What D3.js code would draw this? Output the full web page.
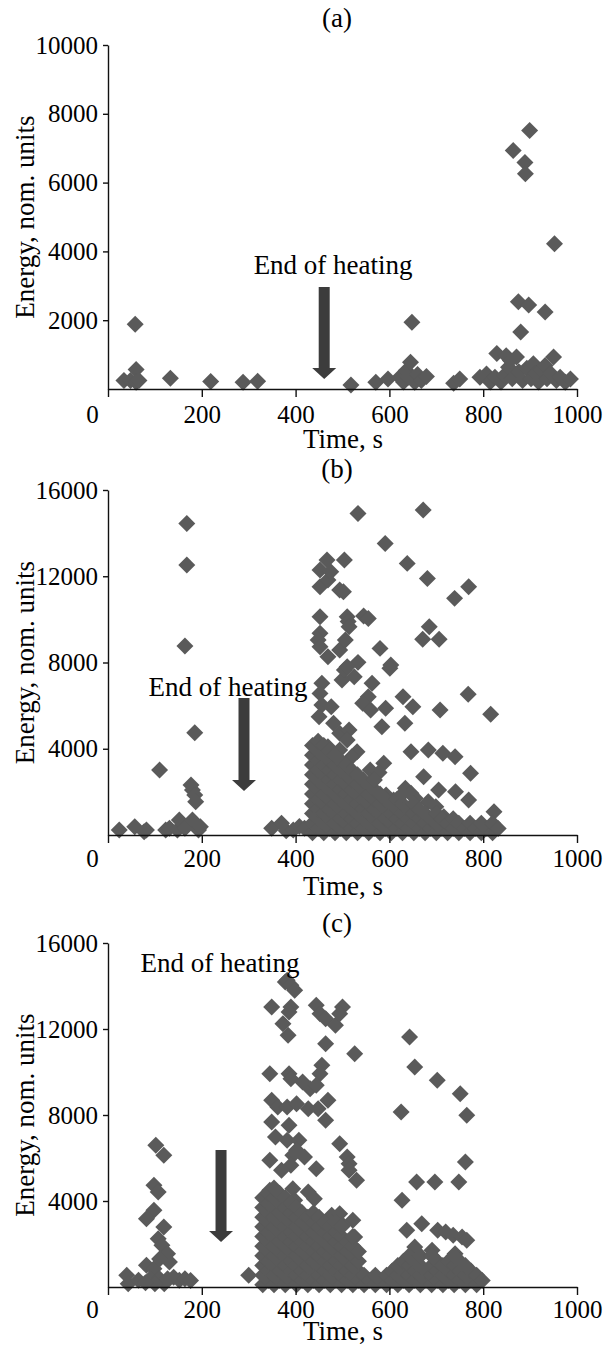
<!DOCTYPE html>
<meta charset="utf-8">
<style>
  body { margin: 0; background: #fff; }
  text { font-family: "Liberation Serif", "Times New Roman", serif; fill: #000; }
</style>
<svg width="605" height="1351"></svg>
<script src="https://cdn.jsdelivr.net/npm/d3@7"></script>
<script>
    // tick values
    const timeTicks = [0, 200, 400, 600, 800, 1000]
    const energyTicksA = [2000, 4000, 6000, 8000, 10000]
    const energyTicksBC = [4000, 8000, 12000, 16000]

    // panel (a): [time, energy]
    const scatterA = [
        [34, 244], [48, 244], [58, 1883], [60, 566], [60, 195], [66, 250],
        [133, 312], [219, 215], [288, 195], [319, 224],
        [518, 117], [571, 195], [597, 293], [622, 341], [630, 200], [636, 537], [640, 340],
        [645, 780], [648, 1940], [654, 195], [660, 420], [668, 250], [679, 361],
        [737, 166], [750, 293],
        [793, 341], [807, 439], [815, 200], [825, 341], [829, 1030], [838, 200], [845, 400],
        [849, 968], [854, 634], [858, 829], [862, 300], [864, 6931], [871, 927], [875, 2537],
        [876, 500], [880, 1659], [884, 250], [889, 6583], [890, 6254], [893, 600], [897, 2439],
        [899, 7512], [902, 300], [907, 732], [912, 450], [918, 200], [924, 550], [932, 2236],
        [932, 683], [936, 300], [944, 450], [950, 927], [952, 4221], [956, 250], [964, 341],
        [975, 195], [986, 293]
    ]

    // panel (b)
    const scatterB = [
        [24, 232], [57, 386], [77, 155], [82, 232], [110, 3014], [123, 232], [131, 309],
        [148, 232], [152, 696], [164, 309], [164, 8764], [168, 14451], [168, 12519],
        [177, 2318], [180, 2087], [180, 696], [185, 1855], [185, 4745], [187, 1546],
        [193, 232], [197, 386],
        [349, 309], [370, 541], [380, 200], [395, 232], [408, 400], [419, 309],
        [533, 14915], [672, 15070], [591, 13524], [638, 12597], [681, 11901], [769, 11515],
        [739, 10974], [685, 9660], [671, 9073], [706, 9073], [768, 6522], [708, 5796],
        [816, 5595], [580, 8655], [603, 7883], [601, 7728], [533, 8006], [545, 10155],
        [555, 10046], [510, 10123], [512, 9900], [504, 12751], [467, 12751], [452, 12287],
        [452, 11515], [469, 11824], [494, 11360], [502, 11283], [475, 12210], [452, 10123],
        [452, 9351], [448, 9042], [452, 8733], [469, 8269], [494, 8578], [506, 9042],
        [514, 9660], [499, 7187], [525, 7342], [504, 7651], [510, 7805], [563, 7033],
        [555, 6414], [543, 6105], [560, 5796], [629, 6414], [650, 5950], [633, 5178],
        [592, 5873], [584, 5023], [588, 3323], [646, 3864], [683, 3941], [714, 3787],
        [740, 3632], [673, 2705], [773, 2859], [705, 2087], [741, 2009], [769, 1623],
        [823, 1082], [683, 1546], [699, 1314], [716, 850], [456, 7033], [452, 6568],
        [456, 6028], [450, 5487], [476, 5950], [481, 5178], [494, 4714], [514, 4868],
        [510, 4405], [531, 3864], [520, 3632], [452, 4173], [469, 4096], [494, 3941],
        [559, 3014], [578, 2900], [634, 2164], [646, 1932], [655, 1700], [593, 1855], [609, 1623]
    ]
    const denseB = [
        [436, [100, 550, 1000, 1450, 1900, 2350, 2800, 3250, 3700, 4150]],
        [448, [300, 750, 1200, 1650, 2100, 2550, 3000, 3450, 3900, 4350]],
        [460, [100, 550, 1000, 1450, 1900, 2350, 2800, 3250, 3700, 4150]],
        [472, [300, 750, 1200, 1650, 2100, 2550, 3000, 3450, 3900]],
        [484, [100, 550, 1000, 1450, 1900, 2350, 2800, 3250, 3700]],
        [496, [300, 750, 1200, 1650, 2100, 2550, 3000, 3450]],
        [508, [100, 550, 1000, 1450, 1900, 2350, 2800, 3250]],
        [520, [300, 750, 1200, 1650, 2100, 2550, 3000]],
        [532, [100, 550, 1000, 1450, 1900, 2350, 2800]],
        [544, [300, 750, 1200, 1650, 2100, 2550]],
        [556, [100, 550, 1000, 1450, 1900, 2350]],
        [568, [300, 750, 1200, 1650, 2100, 2550]],
        [580, [100, 550, 1000, 1450, 1900]],
        [592, [300, 750, 1200, 1650]],
        [604, [100, 550, 1000, 1450]],
        [616, [300, 750, 1200, 1650]],
        [628, [100, 550, 1000, 1450, 1900]],
        [640, [300, 750, 1200]],
        [652, [100, 550, 1000, 1450]],
        [664, [300, 750, 1200]],
        [676, [100, 550, 1000]],
        [688, [300, 750]],
        [700, [100, 550, 1000]],
        [712, [300, 750]],
        [724, [100, 550]],
        [736, [300, 750]],
        [748, [100, 550]],
        [760, [300]],
        [772, [100, 550]],
        [784, [300]],
        [796, [100, 550]],
        [808, [300]],
        [820, [100, 550]],
        [832, [300]]
    ]

    // panel (c)
    const scatterC = [
        [40, 543], [43, 155], [102, 6589], [119, 6124], [98, 4729], [107, 4419], [98, 3566],
        [82, 3178], [119, 2791], [107, 2248], [115, 1938], [127, 1550], [131, 1163],
        [82, 1008], [98, 853], [110, 1300], [65, 310], [90, 388], [110, 388], [127, 388],
        [140, 450], [152, 310], [164, 388], [176, 300], [120, 155], [100, 155], [80, 200],
        [300, 543],
        [378, 14186], [382, 14264], [390, 14031], [398, 13798], [349, 13023], [390, 13023],
        [386, 12791], [373, 12248], [384, 11705], [444, 13101], [452, 12713], [464, 12480],
        [485, 12171], [500, 13023], [494, 12713], [526, 10853], [464, 11318], [456, 10310],
        [452, 9922], [345, 9922], [386, 9922], [390, 9690], [415, 9535], [431, 9225],
        [444, 9380], [469, 8682], [349, 8682], [362, 8372], [382, 8372], [402, 8527],
        [427, 8295], [448, 8295], [464, 7752], [349, 7674], [386, 7519], [357, 6977],
        [382, 6822], [407, 6822], [494, 6667], [345, 5891], [402, 6357], [394, 6124],
        [419, 6047], [444, 5504], [510, 6047], [514, 5736], [514, 5426], [530, 4961],
        [390, 5659], [370, 5426], [394, 4574], [427, 4419], [440, 4109], [398, 4031],
        [345, 4496], [370, 3876], [394, 3411], [427, 3178], [477, 3333], [494, 3411],
        [522, 3101], [501, 2868], [526, 2326], [494, 2171], [461, 2093],
        [643, 11628], [654, 10233], [702, 9612], [751, 8992], [765, 7984], [625, 8140],
        [762, 5814], [748, 4884], [658, 4884], [697, 4884], [627, 4031], [669, 2946],
        [637, 2636], [703, 2636], [720, 2558], [736, 2403], [755, 2326], [765, 2171],
        [654, 1860], [691, 1705], [740, 1550]
    ]
    const denseC = [
        [330, [100, 550, 1000, 1450, 1900, 2350, 2800, 3250, 3700, 4150]],
        [342, [300, 750, 1200, 1650, 2100, 2550, 3000, 3450, 3900, 4350]],
        [354, [100, 550, 1000, 1450, 1900, 2350, 2800, 3250, 3700, 4150, 4600]],
        [366, [300, 750, 1200, 1650, 2100, 2550, 3000, 3450, 3900, 4350]],
        [378, [100, 550, 1000, 1450, 1900, 2350, 2800, 3250, 3700, 4150]],
        [390, [300, 750, 1200, 1650, 2100, 2550, 3000, 3450, 3900]],
        [402, [100, 550, 1000, 1450, 1900, 2350, 2800, 3250, 3700]],
        [414, [300, 750, 1200, 1650, 2100, 2550, 3000, 3450]],
        [426, [100, 550, 1000, 1450, 1900, 2350, 2800, 3250]],
        [438, [300, 750, 1200, 1650, 2100, 2550, 3000, 3450]],
        [450, [100, 550, 1000, 1450, 1900, 2350, 2800, 3250]],
        [462, [300, 750, 1200, 1650, 2100, 2550, 3000]],
        [474, [100, 550, 1000, 1450, 1900, 2350, 2800]],
        [486, [300, 750, 1200, 1650, 2100, 2550, 3000]],
        [498, [100, 550, 1000, 1450, 1900, 2350, 2800]],
        [510, [300, 750, 1200, 1650, 2100]],
        [522, [100, 550, 1000, 1450, 1900, 2350]],
        [534, [300, 750, 1200, 1650]],
        [546, [100, 550]],
        [558, [300]],
        [570, [100, 550]],
        [582, [300]],
        [594, [100, 550]],
        [606, [300, 750]],
        [618, [100, 550, 1000]],
        [630, [300, 750, 1200]],
        [642, [100, 550, 1000, 1450]],
        [654, [300, 750, 1200]],
        [666, [100, 550, 1000, 1450]],
        [678, [300, 750]],
        [690, [100, 550, 1000, 1450]],
        [702, [300, 750, 1200]],
        [714, [100, 550, 1000]],
        [726, [300, 750, 1200]],
        [738, [100, 550, 1000, 1450]],
        [750, [300, 750, 1200]],
        [762, [100, 550, 1000]],
        [774, [300, 750]],
        [786, [100, 550]],
        [798, [300]]
    ]

    const svg = d3.select("svg")
    const left = 108, right = 577

    const panels = [
        { label: "(a)", top: 45, bottom: 389, ymax: 10000, ticks: energyTicksA, pts: scatterA, dense: [],
          titleY: 27, xTitleY: 448, tickPad: 8, arrow: [461, 2965, 290], note: [480, 3343] },
        { label: "(b)", top: 490, bottom: 835, ymax: 16000, ticks: energyTicksBC, pts: scatterB, dense: denseB,
          titleY: 478, xTitleY: 895, tickPad: 6, arrow: [290, 6354, 2040], note: [256, 6446] },
        { label: "(c)", top: 943, bottom: 1287, ymax: 16000, ticks: energyTicksBC, pts: scatterC, dense: denseC,
          titleY: 932, xTitleY: 1340, tickPad: 5, arrow: [241, 6372, 2093], note: [239, 14651] }
    ]

    const diamond = d3.symbol().type(d3.symbolDiamond2).size(184)
    const fmt = d3.format("d")

    panels.forEach(function (p) {
        const x = d3.scaleLinear().domain([0, 1000]).range([left, right])
        const y = d3.scaleLinear().domain([0, p.ymax]).range([p.bottom, p.top])
        const g = svg.append("g")

        // flatten dense columns into points
        const all = p.pts.slice()
        p.dense.forEach(function (c) {
            c[1].forEach(function (e) { all.push([c[0], e]) })
        })

        g.append("g").selectAll("path")
            .data(all)
            .join("path")
            .attr("d", diamond)
            .attr("transform", d => `translate(${x(d[0])},${y(d[1])})`)
            .attr("fill", "#5a5a5a")

        const xAxis = g.append("g")
            .attr("transform", `translate(0,${p.bottom})`)
            .call(d3.axisBottom(x).tickValues(timeTicks).tickFormat(fmt)
                .tickSize(8).tickPadding(p.tickPad).tickSizeOuter(0))
        xAxis.selectAll("text").attr("font-size", 25)
            .attr("font-family", "Liberation Serif").attr("fill", "#000")
            .attr("dx", d => d === 0 ? -16 : 0)

        const yAxis = g.append("g")
            .attr("transform", `translate(${left},0)`)
            .call(d3.axisLeft(y).tickValues(p.ticks).tickFormat(fmt)
                .tickSize(5).tickPadding(5).tickSizeOuter(0))
        yAxis.selectAll("text").attr("font-size", 25)
            .attr("font-family", "Liberation Serif").attr("fill", "#000")

        g.selectAll(".domain").attr("stroke", "#111").attr("stroke-width", 1.4)
        g.selectAll(".tick line").attr("stroke", "#111").attr("stroke-width", 1.4)

        // titles
        g.append("text").attr("x", 337).attr("y", p.titleY)
            .attr("text-anchor", "middle").attr("font-size", 27).text(p.label)
        g.append("text").attr("x", 343).attr("y", p.xTitleY)
            .attr("text-anchor", "middle").attr("font-size", 27).text("Time, s")
        g.append("text")
            .attr("transform", `translate(34,${(p.top + p.bottom) / 2}) rotate(-90)`)
            .attr("text-anchor", "middle").attr("font-size", 27).text("Energy, nom. units")

        // end of heating annotation
        g.append("text").attr("x", x(p.note[0])).attr("y", y(p.note[1]))
            .attr("text-anchor", "middle").attr("font-size", 27).text("End of heating")

        const ax = x(p.arrow[0]), y1 = y(p.arrow[1]), y2 = y(p.arrow[2])
        const sw = 5.5, hw = 12, hh = 11
        g.append("path")
            .attr("d", `M${ax - sw},${y1} L${ax + sw},${y1} L${ax + sw},${y2 - hh} L${ax + hw},${y2 - hh}
                L${ax},${y2} L${ax - hw},${y2 - hh} L${ax - sw},${y2 - hh} Z`)
            .attr("fill", "#3c3c3c")
    })
</script>
